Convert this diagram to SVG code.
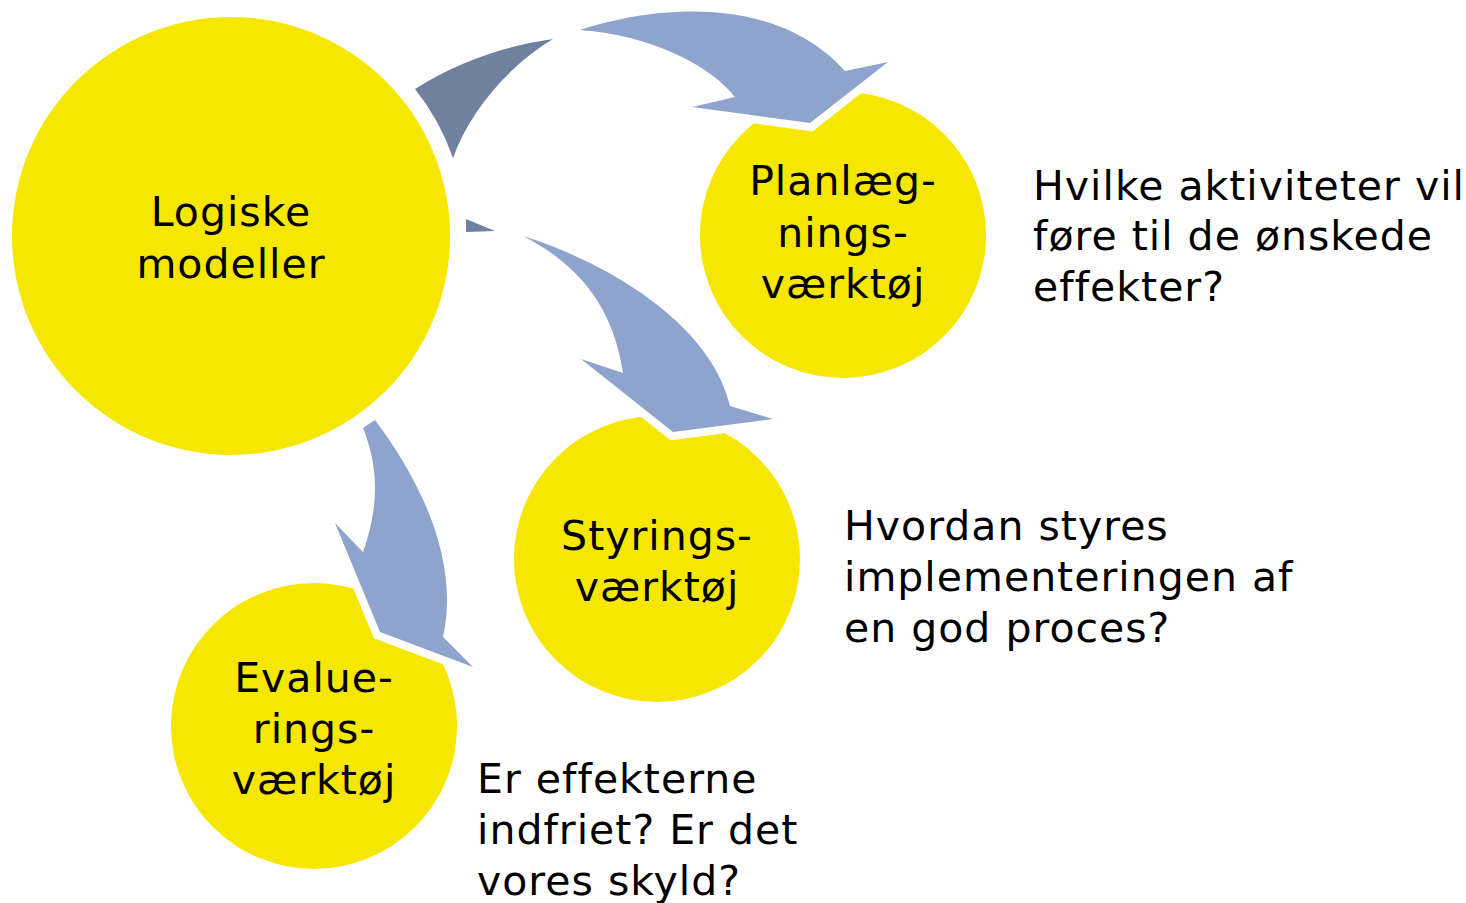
<svg xmlns="http://www.w3.org/2000/svg" width="1466" height="903" viewBox="0 0 1466 903">
<style>
.c{fill:#F5E700}
.a{fill:#8EA4CD;stroke:#FFFFFF;stroke-width:16;paint-order:stroke;stroke-linejoin:miter}
.d{fill:#70809F}
.t{font-family:"DejaVu Sans",Verdana,sans-serif;font-size:41px;letter-spacing:1px;fill:#000}
.m{text-anchor:middle}
</style>
<rect width="1466" height="903" fill="#FFFFFF"/>
<g id="logiske">
<circle class="c" cx="231" cy="236" r="219"/>
<text class="t m" x="231" y="226">Logiske</text>
<text class="t m" x="231" y="278">modeller</text>
</g>
<g id="planlaeg">
<circle class="c" cx="843" cy="235" r="143"/>
<text class="t m" x="843" y="195">Planlæg-</text>
<text class="t m" x="843" y="247">nings-</text>
<text class="t m" x="843" y="298">værktøj</text>
</g>
<g id="styrings">
<circle class="c" cx="657" cy="559" r="143"/>
<text class="t m" x="657" y="550">Styrings-</text>
<text class="t m" x="657" y="601">værktøj</text>
</g>
<g id="evalue">
<circle class="c" cx="314" cy="726" r="143"/>
<text class="t m" x="314" y="692">Evalue-</text>
<text class="t m" x="314" y="743">rings-</text>
<text class="t m" x="314" y="794">værktøj</text>
</g>
<g id="connectors">
<path class="d" d="M415,89 C460,60 510,45 553,39 C510,65 470,110 453,158 A235,235 0 0 0 415,89 Z"/>
<path class="d" d="M466,219 L495,231 L466,232 Z"/>
<path class="a" d="M580,30 C640,10 770,-12 845,71 L888,62 L810,123 L692,107 L735,97 C710,65 650,35 580,30 Z"/>
<path class="a" d="M523,236 C600,260 710,320 730,406 L773,419 L673,432 L581,359 L623,373 C615,320 590,270 523,236 Z"/>
<path class="a" d="M375,420 C420,480 460,560 443,637 L473,667 L380,632 L335,523 L363,552 C378,510 380,470 363,428 Z"/>
</g>
<g id="q1">
<text class="t" x="1033" y="200">Hvilke aktiviteter vil</text>
<text class="t" x="1033" y="250">føre til de ønskede</text>
<text class="t" x="1033" y="301">effekter?</text>
</g>
<g id="q2">
<text class="t" x="844" y="540">Hvordan styres</text>
<text class="t" x="844" y="591">implementeringen af</text>
<text class="t" x="844" y="642">en god proces?</text>
</g>
<g id="q3">
<text class="t" x="477" y="793">Er effekterne</text>
<text class="t" x="477" y="844">indfriet? Er det</text>
<text class="t" x="477" y="895">vores skyld?</text>
</g>
</svg>
